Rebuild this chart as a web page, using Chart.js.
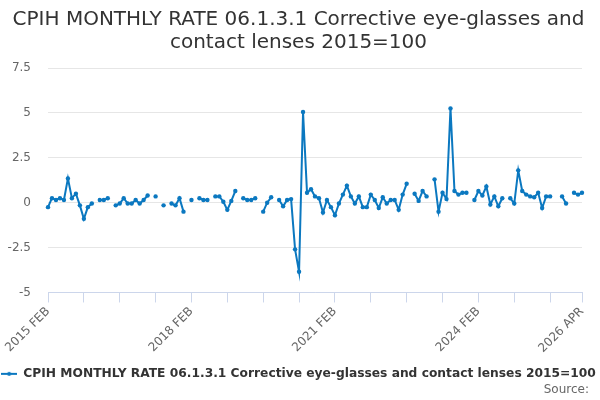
<!DOCTYPE html>
<html>
<head>
<meta charset="utf-8">
<script src="https://cdn.jsdelivr.net/npm/chart.js@4/dist/chart.umd.min.js"></script>
<style>
  html, body { margin: 0; padding: 0; background: #fff; }
  #wrap { width: 600px; height: 400px; }
</style>
</head>
<body>
<div id="wrap"><canvas id="chart"></canvas></div>
<script>
// series: CPIH monthly rate, Feb 2015 .. Apr 2026 (null = no figure)
const seriesName = 'CPIH MONTHLY RATE 06.1.3.1 Corrective eye-glasses and contact lenses 2015=100';
const titleLines = ['CPIH MONTHLY RATE 06.1.3.1 Corrective eye-glasses and', 'contact lenses 2015=100'];
const sourceText = 'Source:';
const startYear = 2015;
const startMonth = 1; // 0-based, FEB
const monthNames = ['JAN', 'FEB', 'MAR', 'APR', 'MAY', 'JUN', 'JUL', 'AUG', 'SEP', 'OCT', 'NOV', 'DEC'];

const rates = [
  -0.25, 0.25, 0.15, 0.25, 0.15, 1.35, 0.25, 0.5, -0.15, -0.9, -0.25, -0.05,
  null, 0.15, 0.15, 0.25, null, -0.15, -0.05, 0.25, -0.05, -0.05, 0.15, -0.05,
  0.15, 0.4, null, 0.35, null, -0.15, null, -0.05, -0.15, 0.25, -0.5, null,
  0.15, null, 0.25, 0.15, 0.15, null, 0.35, 0.35, 0.05, -0.4, 0.1, 0.65,
  null, 0.25, 0.15, 0.15, 0.25, null, -0.5, 0, 0.3, null, 0.15, -0.2,
  0.15, 0.2, -2.6, -3.85, 5.05, 0.55, 0.75, 0.35, 0.25, -0.55, 0.15, -0.25,
  -0.7, -0.05, 0.45, 0.95, 0.35, -0.05, 0.35, -0.25, -0.25, 0.45, 0.15, -0.3,
  0.3, -0.05, 0.15, 0.15, -0.4, 0.45, 1.05, null, 0.5, 0.1, 0.65, 0.35,
  null, 1.3, -0.5, 0.55, 0.2, 5.25, 0.65, 0.45, 0.55, 0.55, null, 0.15,
  0.65, 0.4, 0.9, -0.1, 0.35, -0.2, 0.25, null, 0.25, -0.05, 1.8, 0.65,
  0.45, 0.35, 0.3, 0.55, -0.3, 0.35, 0.35, null, null, 0.35, -0.05, null,
  0.55, 0.45, 0.55
];

// axis ticks: marks every 9 months plus the last month, text only on some
const tickIdx = [0, 9, 18, 27, 36, 45, 54, 63, 72, 81, 90, 99, 108, 117, 126, 134];
const labelIdx = [0, 36, 72, 108, 134];
const yTicks = [-5, -2.5, 0, 2.5, 5, 7.5];

const months = [];
for (let i = 0; i < rates.length; i++) {
  const m = startMonth + i;
  months.push((startYear + Math.floor(m / 12)) + ' ' + monthNames[m % 12]);
}

const blue = '#0b78c0';
const font = 'DejaVu Sans';

// little line-with-dot marker for the legend
function legendMarker() {
  const c = document.createElement('canvas');
  c.width = 16; c.height = 8;
  const g = c.getContext('2d');
  g.strokeStyle = blue;
  g.lineWidth = 2;
  g.beginPath(); g.moveTo(0, 4); g.lineTo(16, 4); g.stroke();
  g.fillStyle = blue;
  g.beginPath(); g.arc(8, 4, 2, 0, Math.PI * 2); g.fill();
  return c;
}

// "Source:" line under the legend, right aligned
const sourcePlugin = {
  id: 'source',
  afterDraw(chart) {
    const g = chart.ctx;
    g.save();
    g.font = '12px "' + font + '"';
    g.fillStyle = '#666';
    g.textAlign = 'right';
    g.textBaseline = 'middle';
    g.fillText(sourceText, chart.width - 11, chart.height - 10);
    g.restore();
  }
};

const ctx = document.getElementById('chart').getContext('2d');
new Chart(ctx, {
  type: 'line',
  data: {
    labels: months,
    datasets: [{
      label: seriesName,
      data: rates,
      borderColor: blue,
      backgroundColor: blue,
      borderWidth: 2,
      pointRadius: 2.2,
      pointHoverRadius: 3,
      pointBorderWidth: 0,
      spanGaps: false,
      tension: 0
    }]
  },
  plugins: [sourcePlugin],
  options: {
    responsive: true,
    maintainAspectRatio: false,
    animation: false,
    layout: { padding: { left: 0, right: 3, top: 8, bottom: 10 } },
    plugins: {
      title: {
        display: true,
        text: titleLines,
        color: '#333',
        font: { family: font, size: 20, weight: 'normal', lineHeight: 1.15 },
        padding: { top: 0, bottom: 14 }
      },
      legend: {
        position: 'bottom',
        labels: {
          usePointStyle: true,
          pointStyle: legendMarker(),
          pointStyleWidth: 16,
          color: '#333',
          font: { family: font, size: 12.25, weight: 'bold' },
          padding: 8
        }
      },
      tooltip: { enabled: false }
    },
    scales: {
      x: {
        type: 'category',
        afterBuildTicks: (scale) => {
          scale.ticks = scale.ticks.filter(t => tickIdx.includes(t.value));
        },
        afterFit: (scale) => {
          scale.paddingLeft = 0;
          scale.paddingRight = 18;
          scale.height += 2;
        },
        ticks: {
          autoSkip: false,
          minRotation: 45,
          maxRotation: 45,
          color: '#666',
          font: { family: font, size: 12 },
          padding: 2,
          callback: (val) => labelIdx.includes(val) ? months[val] : ''
        },
        grid: {
          display: true,
          drawOnChartArea: false,
          drawTicks: true,
          tickLength: 10,
          color: '#ccd6eb'
        },
        border: { color: '#ccd6eb', width: 1 }
      },
      y: {
        min: -5,
        max: 7.5,
        afterBuildTicks: (scale) => {
          scale.ticks = yTicks.map(v => ({ value: v }));
        },
        afterFit: (scale) => {
          scale.width = 48;
        },
        ticks: {
          color: '#666',
          font: { family: font, size: 12 },
          padding: 17
        },
        grid: { color: '#e6e6e6', drawTicks: false },
        border: { display: false }
      }
    }
  }
});
</script>
</body>
</html>
